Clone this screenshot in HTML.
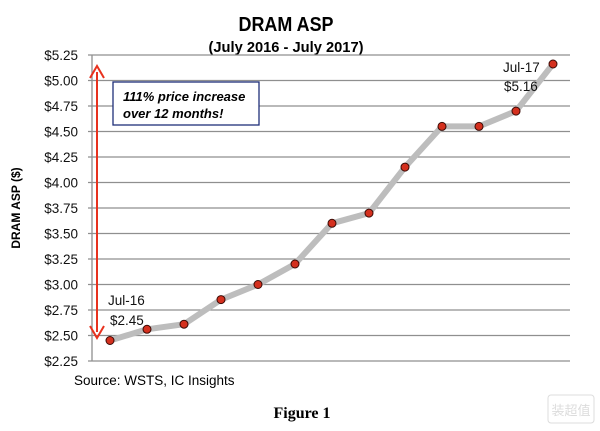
<!DOCTYPE html>
<html><head><meta charset="utf-8"><style>html,body{margin:0;padding:0;background:#fff}svg{display:block}</style></head>
<body>
<svg width="600" height="431" xmlns="http://www.w3.org/2000/svg" font-family="Liberation Sans, sans-serif">
<text x="286" y="31" font-size="20" font-weight="bold" text-anchor="middle" textLength="95" lengthAdjust="spacingAndGlyphs">DRAM ASP</text>
<text x="286" y="52" font-size="15" font-weight="bold" text-anchor="middle" textLength="155" lengthAdjust="spacingAndGlyphs">(July 2016 - July 2017)</text>
<g stroke="#8f8f8f" stroke-width="1.3">
<line x1="88" x2="570" y1="55" y2="55"/><line x1="88" x2="570" y1="80.5" y2="80.5"/><line x1="88" x2="570" y1="106" y2="106"/><line x1="88" x2="570" y1="131.5" y2="131.5"/><line x1="88" x2="570" y1="157" y2="157"/><line x1="88" x2="570" y1="182.5" y2="182.5"/><line x1="88" x2="570" y1="208" y2="208"/><line x1="88" x2="570" y1="233.5" y2="233.5"/><line x1="88" x2="570" y1="259" y2="259"/><line x1="88" x2="570" y1="284.5" y2="284.5"/><line x1="88" x2="570" y1="310" y2="310"/><line x1="88" x2="570" y1="335.5" y2="335.5"/><line x1="88" x2="570" y1="361" y2="361"/>
<line x1="92" x2="92" y1="55" y2="361"/>
</g>
<g font-size="13.5" text-anchor="end" fill="#111">
<text x="78" y="60">$5.25</text><text x="78" y="85.5">$5.00</text><text x="78" y="111">$4.75</text><text x="78" y="136.5">$4.50</text><text x="78" y="162">$4.25</text><text x="78" y="187.5">$4.00</text><text x="78" y="213">$3.75</text><text x="78" y="238.5">$3.50</text><text x="78" y="264">$3.25</text><text x="78" y="289.5">$3.00</text><text x="78" y="315">$2.75</text><text x="78" y="340.5">$2.50</text><text x="78" y="366">$2.25</text>
</g>
<text transform="translate(20,208) rotate(-90)" font-size="12" font-weight="bold" text-anchor="middle">DRAM ASP ($)</text>
<line x1="97" y1="72" x2="97" y2="332" stroke="#e8321e" stroke-width="2"/>
<path d="M90,78 L97,66 L104,78" fill="none" stroke="#e8321e" stroke-width="2"/>
<path d="M90,326 L97,338 L104,326" fill="none" stroke="#e8321e" stroke-width="2"/>
<rect x="113" y="82" width="146" height="43" fill="#fff" stroke="#1f2f7a" stroke-width="1.3"/>
<text x="123" y="101" font-size="13" font-weight="bold" font-style="italic">111% price increase</text>
<text x="123" y="118" font-size="13" font-weight="bold" font-style="italic">over 12 months!</text>
<polyline fill="none" stroke="#bdbdbd" stroke-width="6" stroke-linejoin="round" points="110,340.5 147,329.3 184,324.2 221,299.6 258,284.5 295,264 332,223.3 369,213.1 405,167.1 442,126.4 479,126.4 516,111.1 553,64"/>
<g fill="#d4301e" stroke="#3a0a05" stroke-width="1">
<circle cx="110" cy="340.5" r="4"/><circle cx="147" cy="329.3" r="4"/><circle cx="184" cy="324.2" r="4"/><circle cx="221" cy="299.6" r="4"/><circle cx="258" cy="284.5" r="4"/><circle cx="295" cy="264" r="4"/><circle cx="332" cy="223.3" r="4"/><circle cx="369" cy="213.1" r="4"/><circle cx="405" cy="167.1" r="4"/><circle cx="442" cy="126.4" r="4"/><circle cx="479" cy="126.4" r="4"/><circle cx="516" cy="111.1" r="4"/><circle cx="553" cy="64" r="4"/>
</g>
<g font-size="13.5" fill="#111">
<text x="108" y="305">Jul-16</text><text x="110" y="325">$2.45</text>
<text x="503" y="72">Jul-17</text><text x="504" y="91">$5.16</text>
</g>
<text x="74" y="385" font-size="13.5">Source:  WSTS, IC Insights</text>
<text x="302" y="418" font-size="16" font-weight="bold" font-family="Liberation Serif, serif" text-anchor="middle">Figure 1</text>
<g opacity="0.5"><rect x="548" y="395" width="46" height="28" rx="3" fill="none" stroke="#bbb"/><text x="571" y="415" font-size="13" fill="#bbb" text-anchor="middle" font-family="Noto Sans CJK SC, sans-serif">装超值</text></g>
</svg>
</body></html>
